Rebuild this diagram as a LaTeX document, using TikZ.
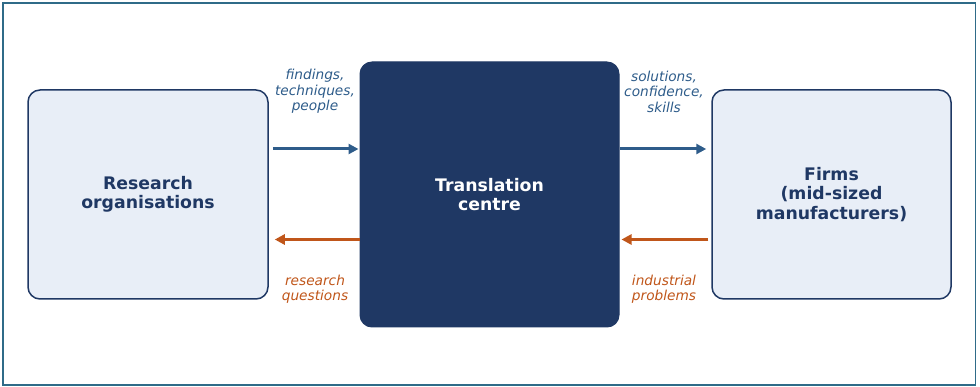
\documentclass[tikz,border=0pt]{standalone}
\usepackage{fontspec}
\setmainfont{DejaVu Sans}
\usetikzlibrary{arrows.meta,calc}
\definecolor{navy}{HTML}{1F3864}
\definecolor{pale}{HTML}{E8EEF7}
\definecolor{flowblue}{HTML}{2E5C8A}
\definecolor{floworange}{HTML}{C0561A}
\definecolor{frame}{HTML}{2F6B88}
\tikzset{
  sidebox/.style={draw=navy, line width=1.5pt, fill=pale, rounded corners=12pt, text=navy,
    font=\fontsize{17.3}{19.2}\selectfont\bfseries, align=center, inner sep=0pt},
  centrebox/.style={draw=navy, line width=1pt, fill=navy, rounded corners=12pt, text=white,
    font=\fontsize{17.3}{19.2}\selectfont\bfseries, align=center, inner sep=0pt},
  fwd/.style={draw=flowblue, line width=3pt, -{Triangle[length=10pt,width=10pt]}},
  back/.style={draw=floworange, line width=3pt, -{Triangle[length=10pt,width=10pt]}},
  fwdlabel/.style={text=flowblue, font=\fontsize{13.7}{15.5}\selectfont\itshape, align=center, inner sep=0pt},
  backlabel/.style={text=floworange, font=\fontsize{13.7}{15.5}\selectfont\itshape, align=center, inner sep=0pt},
}
\begin{document}
\begin{tikzpicture}[x=1pt,y=-1pt]
\useasboundingbox (0,0) rectangle (980,387);
\draw[frame, line width=1.6pt] (3,3) rectangle (975.5,385);
\node[sidebox, minimum width=240pt, minimum height=209pt] (L) at (148,194.5) {Research\\organisations};
\node[centrebox, minimum width=259pt, minimum height=265pt] (C) at (489.5,194.5) {Translation\\centre};
\node[sidebox, minimum width=239pt, minimum height=209pt] (R) at (831.5,194.5) {Firms\\(mid-sized\\manufacturers)};
\coordinate (ytop) at (0,149);
\coordinate (ybot) at (0,239.5);
\draw[fwd] ([xshift=4pt]L.east |- ytop) -- ([xshift=-1pt]C.west |- ytop);
\draw[fwd] (C.east |- ytop) -- ([xshift=-5pt]R.west |- ytop);
\draw[back] (C.west |- ybot) -- ([xshift=6pt]L.east |- ybot);
\draw[back] ([xshift=-3pt]R.west |- ybot) -- ([xshift=2pt]C.east |- ybot);
\node[fwdlabel] (l1) at (315,91.5) {findings,\\techniques,\\people};
\node[fwdlabel] (l2) at (664,91.5) {solutions,\\confidence,\\skills};
\node[backlabel] (l3) at (315,289) {research\\questions};
\node[backlabel] (l4) at (664,289) {industrial\\problems};
\end{tikzpicture}
\end{document}
